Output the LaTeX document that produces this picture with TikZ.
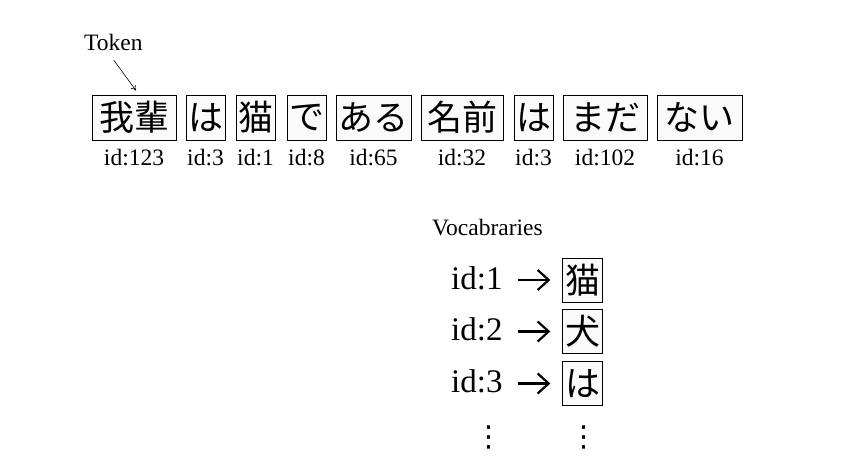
\documentclass[tikz,border=0pt]{standalone}
\usepackage{fontspec}
\setmainfont{Liberation Serif}
\newfontfamily\jpfont{Noto Sans CJK JP}
\newfontfamily\symfont{DejaVu Sans}
\usetikzlibrary{arrows.meta}
\tikzset{
  tokbox/.style={draw, line width=0.8pt, fill=gray!4, inner sep=0pt,
    minimum height=45pt, font=\jpfont\fontsize{35}{35}\selectfont},
  idlabel/.style={inner sep=0pt, anchor=base, font=\fontsize{23.5}{23.5}\selectfont},
  bigid/.style={inner sep=0pt, anchor=base west, font=\fontsize{33}{33}\selectfont},
  tokarrow/.style={-{To[length=5pt,width=6pt]}, line width=0.6pt},
  vocarrow/.style={-{Straight Barb[length=11pt,width=20pt]}, line width=2.2pt},
  vdotsnode/.style={inner sep=0pt, font=\symfont\fontsize{29}{29}\selectfont},
}
\begin{document}
\begin{tikzpicture}[x=1pt,y=-1pt]
  \useasboundingbox (0,0) rectangle (862,468);

  % Tokens
  \node[tokbox, minimum width=84pt] (t1) at (134,117.5) {我輩};
  \node[tokbox, minimum width=39pt] (t2) at (205.5,117.5) {は};
  \node[tokbox, minimum width=39pt] (t3) at (255.5,117.5) {猫};
  \node[tokbox, minimum width=39pt] (t4) at (306.5,117.5) {で};
  \node[tokbox, minimum width=75pt] (t5) at (373.5,117.5) {ある};
  \node[tokbox, minimum width=82pt] (t6) at (462,117.5) {名前};
  \node[tokbox, minimum width=39pt] (t7) at (533.5,117.5) {は};
  \node[tokbox, minimum width=84pt] (t8) at (605,117.5) {まだ};
  \node[tokbox, minimum width=85pt] (t9) at (699.5,117.5) {ない};

  % IDs de los tokens
  \node[idlabel] (i1) at (134,165) {id:123};
  \node[idlabel] (i2) at (205.5,165) {id:3};
  \node[idlabel] (i3) at (255.5,165) {id:1};
  \node[idlabel] (i4) at (306.5,165) {id:8};
  \node[idlabel] (i5) at (373.5,165) {id:65};
  \node[idlabel] (i6) at (462,165) {id:32};
  \node[idlabel] (i7) at (533.5,165) {id:3};
  \node[idlabel] (i8) at (605,165) {id:102};
  \node[idlabel] (i9) at (699.5,165) {id:16};

  % Etiqueta Token
  \node[idlabel, anchor=base west] (token) at (84,51) {Token};
  \draw[tokarrow, shorten <=11pt, shorten >=5pt]
    ([xshift=-6pt]token.south) -- ([xshift=5pt]t1.north);

  % Vocabulario
  \node[idlabel, anchor=base west] (vocab) at (432,235) {Vocabraries};
  \node[bigid] (v1) at (451,289) {id:1};
  \node[bigid] (v2) at (451,340) {id:2};
  \node[bigid] (v3) at (451,392) {id:3};
  \node[tokbox, minimum width=40pt, minimum height=44pt] (w1) at (582.7,280) {猫};
  \node[tokbox, minimum width=40pt, minimum height=44pt] (w2) at (582.7,331.5) {犬};
  \node[tokbox, minimum width=40pt, minimum height=44pt] (w3) at (582.7,383.5) {は};
  \draw[vocarrow, shorten <=15pt, shorten >=12pt] (v1.east |- w1.west) -- (w1.west);
  \draw[vocarrow, shorten <=15pt, shorten >=12pt] (v2.east |- w2.west) -- (w2.west);
  \draw[vocarrow, shorten <=15pt, shorten >=12pt] (v3.east |- w3.west) -- (w3.west);

  % Puntos suspensivos
  \node[vdotsnode] (d1) at (489,437.5) {⋮};
  \node[vdotsnode] (d2) at (584,437.5) {⋮};
\end{tikzpicture}
\end{document}
